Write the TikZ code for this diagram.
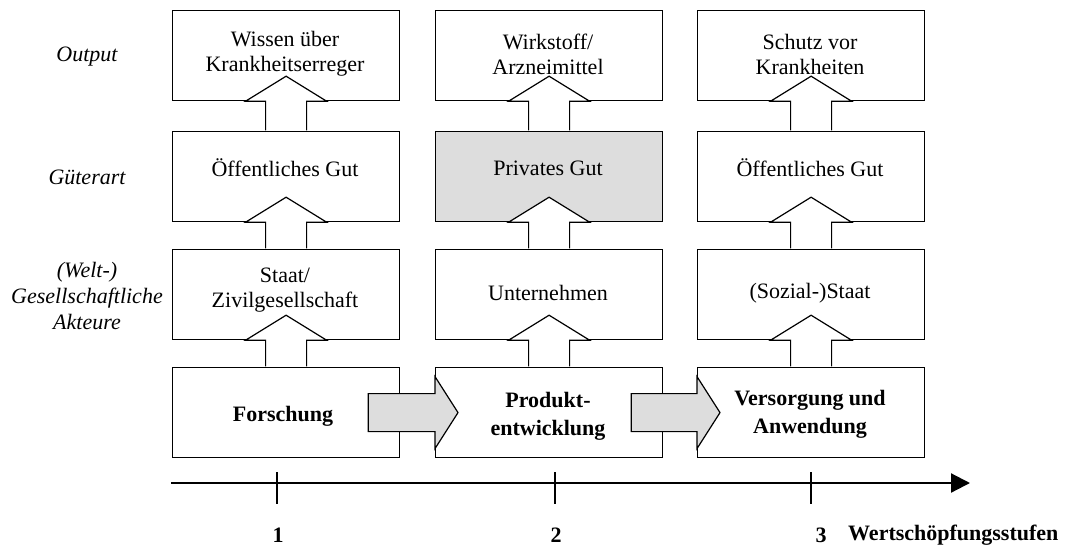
\documentclass[tikz,border=0pt]{standalone}
\usepackage{fontspec}
\setmainfont{Liberation Serif}
\usetikzlibrary{arrows.meta,calc}
\definecolor{lightgr}{HTML}{DDDDDD}
\newcommand\myuparrow[2]{%
  \draw[uparrow] ($(#1.north)+(-20.5,-0.6)$) -- ($(#2.south)+(-20.5,0)$) -- ($(#2.south)+(-40.5,0)$) -- ($(#2.south)+(0,-25)$) -- ($(#2.south)+(40.5,0)$) -- ($(#2.south)+(20.5,0)$) -- ($(#1.north)+(20.5,-0.6)$);}
\newcommand\myrarrow[2]{%
  \draw[rarrow] ($(#1.east)+(-32,-19)$) -- ($(#2.west)+(0,-19)$) -- ($(#2.west)+(0,-36)$) -- ($(#2.west)+(23,0)$) -- ($(#2.west)+(0,36)$) -- ($(#2.west)+(0,19)$) -- ($(#1.east)+(-32,19)$) -- cycle;}
\begin{document}
\begin{tikzpicture}[x=1pt,y=-1pt,
  box/.style={draw,line width=1.2pt,minimum width=227pt,minimum height=90pt,inner sep=0pt,anchor=north west},
  txt/.style={font=\fontsize{22}{25}\selectfont,align=center,inner sep=0pt},
  btxt/.style={font=\fontsize{22}{28}\selectfont\bfseries,align=center,inner sep=0pt},
  lbl/.style={font=\fontsize{22}{26}\selectfont\itshape,align=center,inner sep=0pt},
  uparrow/.style={draw,line width=1.2pt,fill=white,line join=miter},
  rarrow/.style={draw,line width=1.2pt,fill=lightgr,line join=miter},
  tick/.style={line width=1.2pt},
  axis/.style={line width=2.2pt,-{Triangle[length=19pt,width=19pt]}},
]
\useasboundingbox (0,0) rectangle (1066,547);

% boxes
\node[box] (o1) at (172,10) {};
\node[box] (o2) at (435,10) {};
\node[box] (o3) at (697,10) {};
\node[box] (g1) at (172,131) {};
\node[box,fill=lightgr] (g2) at (435,131) {};
\node[box] (g3) at (697,131) {};
\node[box] (a1) at (172,249) {};
\node[box] (a2) at (435,249) {};
\node[box] (a3) at (697,249) {};
\node[box] (s1) at (172,367) {};
\node[box] (s2) at (435,367) {};
\node[box] (s3) at (697,367) {};

% vertical block arrows
\myuparrow{g1}{o1}
\myuparrow{g2}{o2}
\myuparrow{g3}{o3}
\myuparrow{a1}{g1}
\myuparrow{a2}{g2}
\myuparrow{a3}{g3}
\myuparrow{s1}{a1}
\myuparrow{s2}{a2}
\myuparrow{s3}{a3}

% horizontal block arrows
\myrarrow{s1}{s2}
\myrarrow{s2}{s3}

% texts in boxes
\node[txt] (to1) at (285,54) {Wissen über\\Krankheitserreger};
\node[txt] (to2) at (548,54) {Wirkstoff/\\Arzneimittel};
\node[txt] (to3) at (810,54) {Schutz vor\\Krankheiten};
\node[txt] (tg1) at (285,168) {Öffentliches Gut};
\node[txt] (tg2) at (548,168) {Privates Gut};
\node[txt] (tg3) at (810,168) {Öffentliches Gut};
\node[txt] (ta1) at (285,290) {Staat/\\Zivilgesellschaft};
\node[txt] (ta2) at (548,293) {Unternehmen};
\node[txt] (ta3) at (810,293) {(Sozial-)Staat};
\node[btxt] (ts1) at (283,416) {Forschung};
\node[btxt] (ts2) at (548,416) {Produkt-\\entwicklung};
\node[btxt] (ts3) at (810,414) {Versorgung und\\Anwendung};

% row labels
\node[lbl] (l1) at (87,57) {Output};
\node[lbl] (l2) at (87,177) {Güterart};
\node[lbl] (l3) at (87,296) {(Welt-)\\Gesellschaftliche\\Akteure};

% axis
\coordinate (ax0) at (171,483);
\coordinate (ax1) at (970,483);
\draw[axis] (ax0) -- (ax1);
\coordinate (k1a) at (277,472); \coordinate (k1b) at (277,504);
\coordinate (k2a) at (555,472); \coordinate (k2b) at (555,504);
\coordinate (k3a) at (811,472); \coordinate (k3b) at (811,504);
\draw[tick] (k1a) -- (k1b);
\draw[tick] (k2a) -- (k2b);
\draw[tick] (k3a) -- (k3b);
\node[btxt] (n1) at (278,535) {1};
\node[btxt] (n2) at (556,535) {2};
\node[btxt] (n3) at (821,535) {3};
\node[btxt,anchor=west] (wl) at (848,535) {Wertschöpfungsstufen};
\end{tikzpicture}
\end{document}
